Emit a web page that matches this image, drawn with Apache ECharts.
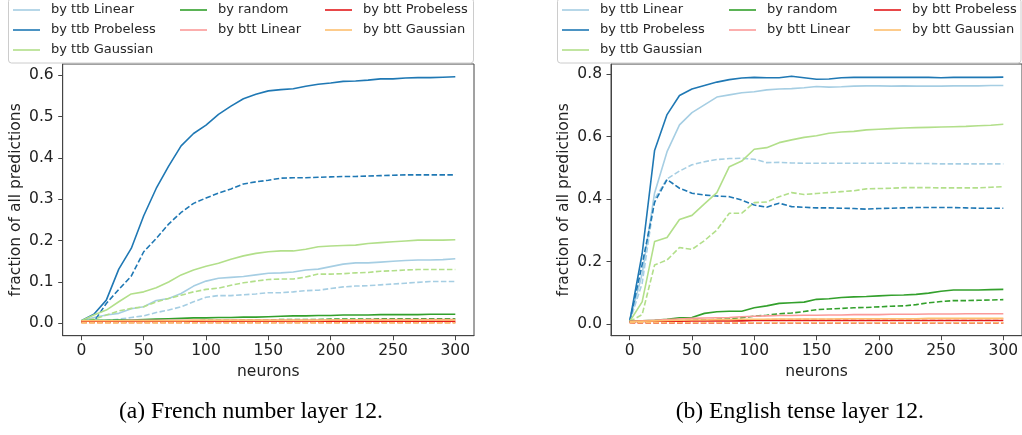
<!DOCTYPE html>
<html><head><meta charset="utf-8">
<script src="https://cdn.jsdelivr.net/npm/echarts@6/dist/echarts.min.js"></script>
<style>html,body{margin:0;padding:0;background:#fff}#c{width:1022px;height:435px}</style>
</head><body><div id="c"></div><script>
// ---------- data ----------
const NEURONS = [0,10,20,30,40,50,60,70,80,90,100,110,120,130,140,150,160,170,180,190,200,210,220,230,240,250,260,270,280,290,300];
const X_TICKS = [0,50,100,150,200,250,300];
const Y_TICKS_FR = [0,0.1,0.2,0.3,0.4,0.5,0.6];
const Y_TICKS_EN = [0,0.2,0.4,0.6,0.8];
const SERIES_NAMES = ['by ttb Linear','by ttb Probeless','by ttb Gaussian','by random','by btt Linear','by btt Probeless','by btt Gaussian'];
const CAPTION_FR = '(a) French number layer 12.';
const CAPTION_EN = '(b) English tense layer 12.';

// (a) French number layer 12 — solid and dashed variants
const FR_ttbLinear      = [0.006,0.014,0.020,0.024,0.035,0.040,0.055,0.060,0.072,0.090,0.102,0.109,0.111,0.113,0.117,0.121,0.122,0.124,0.129,0.131,0.137,0.143,0.146,0.146,0.148,0.150,0.152,0.153,0.153,0.154,0.156];
const FR_ttbLinear_d    = [0.003,0.005,0.007,0.010,0.014,0.018,0.026,0.032,0.040,0.052,0.063,0.067,0.067,0.069,0.071,0.074,0.074,0.076,0.079,0.080,0.084,0.088,0.090,0.091,0.093,0.095,0.097,0.099,0.101,0.101,0.101];
const FR_ttbProbeless   = [0.006,0.022,0.056,0.131,0.181,0.260,0.326,0.380,0.429,0.459,0.479,0.505,0.525,0.543,0.554,0.562,0.565,0.567,0.573,0.578,0.581,0.585,0.586,0.588,0.591,0.591,0.593,0.594,0.594,0.595,0.596];
const FR_ttbProbeless_d = [0.004,0.004,0.048,0.082,0.114,0.173,0.205,0.240,0.268,0.290,0.303,0.315,0.325,0.337,0.342,0.346,0.351,0.352,0.352,0.353,0.354,0.355,0.355,0.356,0.357,0.358,0.359,0.359,0.359,0.359,0.359];
const FR_ttbGaussian    = [0.006,0.020,0.032,0.052,0.071,0.076,0.086,0.100,0.117,0.129,0.138,0.145,0.155,0.163,0.169,0.173,0.175,0.175,0.179,0.185,0.187,0.188,0.189,0.193,0.195,0.197,0.199,0.201,0.201,0.201,0.202];
const FR_ttbGaussian_d  = [0.006,0.010,0.020,0.030,0.036,0.040,0.052,0.060,0.068,0.076,0.082,0.085,0.092,0.098,0.102,0.106,0.107,0.107,0.112,0.119,0.119,0.120,0.122,0.123,0.126,0.127,0.129,0.130,0.130,0.130,0.130];
const FR_random         = [0.006,0.007,0.007,0.008,0.008,0.009,0.010,0.011,0.012,0.013,0.013,0.014,0.014,0.015,0.015,0.016,0.017,0.018,0.018,0.019,0.019,0.020,0.020,0.020,0.021,0.021,0.021,0.021,0.022,0.022,0.022];
const FR_random_d       = [0.003,0.003,0.004,0.004,0.005,0.005,0.005,0.006,0.006,0.006,0.007,0.007,0.007,0.008,0.008,0.008,0.009,0.009,0.009,0.009,0.010,0.010,0.010,0.010,0.011,0.011,0.011,0.011,0.011,0.011,0.011];
const FR_bttLinear      = [0.006,0.006,0.006,0.006,0.007,0.007,0.007,0.007,0.007,0.007,0.007,0.007,0.008,0.008,0.008,0.008,0.008,0.008,0.008,0.008,0.008,0.008,0.008,0.009,0.009,0.009,0.009,0.009,0.009,0.009,0.009];
const FR_bttLinear_d    = [0.003,0.003,0.003,0.003,0.003,0.003,0.003,0.003,0.004,0.004,0.004,0.004,0.004,0.004,0.004,0.004,0.004,0.004,0.004,0.004,0.004,0.004,0.004,0.004,0.004,0.004,0.004,0.004,0.004,0.004,0.004];
const FR_bttProbeless   = [0.005,0.005,0.005,0.005,0.005,0.005,0.005,0.005,0.005,0.005,0.005,0.005,0.005,0.005,0.005,0.005,0.005,0.005,0.005,0.005,0.005,0.005,0.005,0.005,0.005,0.005,0.005,0.005,0.005,0.005,0.005];
const FR_bttProbeless_d = [0.002,0.002,0.002,0.002,0.002,0.002,0.002,0.002,0.002,0.002,0.002,0.002,0.002,0.002,0.002,0.002,0.002,0.002,0.002,0.002,0.002,0.002,0.002,0.002,0.002,0.002,0.002,0.002,0.002,0.002,0.002];
const FR_bttGaussian    = [0.006,0.006,0.006,0.006,0.006,0.006,0.006,0.006,0.006,0.007,0.007,0.007,0.007,0.007,0.007,0.007,0.007,0.007,0.007,0.007,0.008,0.008,0.008,0.008,0.008,0.008,0.008,0.008,0.008,0.008,0.008];
const FR_bttGaussian_d  = [0.001,0.001,0.001,0.001,0.001,0.001,0.001,0.001,0.001,0.001,0.001,0.001,0.001,0.001,0.001,0.001,0.001,0.001,0.001,0.001,0.001,0.001,0.001,0.001,0.001,0.001,0.001,0.001,0.001,0.001,0.001];

// (b) English tense layer 12
const EN_ttbLinear      = [0.008,0.160,0.420,0.552,0.638,0.677,0.702,0.727,0.734,0.741,0.744,0.750,0.753,0.754,0.757,0.761,0.759,0.760,0.762,0.763,0.763,0.762,0.763,0.762,0.762,0.762,0.763,0.763,0.763,0.764,0.764];
const EN_ttbLinear_d    = [0.008,0.130,0.400,0.465,0.490,0.510,0.520,0.527,0.530,0.531,0.528,0.517,0.518,0.516,0.515,0.515,0.515,0.515,0.515,0.515,0.515,0.515,0.515,0.514,0.514,0.513,0.513,0.513,0.513,0.513,0.513];
const EN_ttbProbeless   = [0.008,0.225,0.556,0.671,0.732,0.753,0.764,0.775,0.783,0.788,0.790,0.789,0.789,0.794,0.789,0.784,0.785,0.789,0.790,0.790,0.790,0.790,0.790,0.790,0.790,0.789,0.790,0.790,0.790,0.790,0.791];
const EN_ttbProbeless_d = [0.008,0.190,0.390,0.463,0.435,0.419,0.413,0.410,0.408,0.397,0.381,0.374,0.387,0.376,0.374,0.372,0.372,0.371,0.370,0.368,0.370,0.371,0.372,0.373,0.373,0.373,0.373,0.372,0.371,0.371,0.371];
const EN_ttbGaussian    = [0.008,0.071,0.264,0.277,0.335,0.348,0.385,0.421,0.504,0.522,0.560,0.565,0.581,0.590,0.598,0.603,0.611,0.615,0.617,0.622,0.624,0.626,0.628,0.629,0.630,0.631,0.632,0.633,0.635,0.637,0.640];
const EN_ttbGaussian_d  = [0.008,0.030,0.189,0.205,0.245,0.239,0.267,0.301,0.355,0.355,0.389,0.391,0.408,0.421,0.415,0.418,0.421,0.424,0.427,0.433,0.434,0.435,0.437,0.437,0.437,0.436,0.436,0.436,0.436,0.438,0.440];
const EN_random         = [0.008,0.010,0.012,0.015,0.020,0.021,0.034,0.039,0.041,0.041,0.052,0.058,0.066,0.068,0.070,0.079,0.081,0.085,0.087,0.088,0.090,0.092,0.093,0.095,0.099,0.105,0.109,0.109,0.109,0.110,0.111];
const EN_random_d       = [0.006,0.007,0.008,0.009,0.010,0.012,0.013,0.015,0.017,0.020,0.025,0.028,0.033,0.035,0.040,0.046,0.048,0.050,0.052,0.053,0.055,0.057,0.058,0.062,0.068,0.072,0.075,0.075,0.076,0.077,0.078];
const EN_bttLinear      = [0.008,0.010,0.012,0.014,0.016,0.018,0.019,0.020,0.021,0.023,0.025,0.026,0.027,0.027,0.028,0.028,0.029,0.029,0.030,0.030,0.030,0.031,0.031,0.031,0.032,0.032,0.032,0.033,0.033,0.033,0.033];
const EN_bttLinear_d    = [0.006,0.007,0.008,0.009,0.010,0.011,0.011,0.012,0.012,0.013,0.013,0.014,0.014,0.014,0.015,0.015,0.015,0.015,0.016,0.016,0.016,0.016,0.016,0.016,0.017,0.017,0.017,0.017,0.017,0.017,0.017];
const EN_bttProbeless   = [0.008,0.008,0.009,0.009,0.009,0.010,0.010,0.010,0.010,0.010,0.011,0.011,0.011,0.011,0.011,0.011,0.011,0.011,0.011,0.011,0.011,0.011,0.011,0.011,0.011,0.011,0.011,0.011,0.011,0.011,0.011];
const EN_bttProbeless_d = [0.004,0.003,0.003,0.003,0.003,0.003,0.003,0.003,0.003,0.003,0.003,0.003,0.003,0.003,0.003,0.003,0.003,0.003,0.003,0.003,0.003,0.003,0.003,0.003,0.003,0.003,0.003,0.003,0.003,0.003,0.003];
const EN_bttGaussian    = [0.008,0.009,0.010,0.011,0.012,0.013,0.013,0.014,0.014,0.015,0.015,0.015,0.016,0.016,0.016,0.016,0.016,0.017,0.017,0.017,0.017,0.017,0.017,0.017,0.018,0.018,0.018,0.018,0.018,0.018,0.018];
const EN_bttGaussian_d  = [0.004,0.004,0.004,0.004,0.004,0.004,0.004,0.004,0.004,0.004,0.004,0.004,0.004,0.004,0.004,0.004,0.004,0.004,0.004,0.004,0.004,0.004,0.004,0.004,0.004,0.004,0.004,0.004,0.004,0.004,0.004];

// ---------- styling ----------
const COLORS = ['#a6cee3','#1f78b4','#b2df8a','#33a02c','#fb9a99','#e31a1c','#fdbf6f'];
const FONT = 'DejaVu Sans';
const AX = '#444';

const FR_SETS = [[FR_ttbLinear,FR_ttbLinear_d],[FR_ttbProbeless,FR_ttbProbeless_d],[FR_ttbGaussian,FR_ttbGaussian_d],[FR_random,FR_random_d],[FR_bttLinear,FR_bttLinear_d],[FR_bttProbeless,FR_bttProbeless_d],[FR_bttGaussian,FR_bttGaussian_d]];
const EN_SETS = [[EN_ttbLinear,EN_ttbLinear_d],[EN_ttbProbeless,EN_ttbProbeless_d],[EN_ttbGaussian,EN_ttbGaussian_d],[EN_random,EN_random_d],[EN_bttLinear,EN_bttLinear_d],[EN_bttProbeless,EN_bttProbeless_d],[EN_bttGaussian,EN_bttGaussian_d]];

function pairs(vals){ return NEURONS.map((n,i)=>[n, vals[i]]); }
const series = [];
[FR_SETS, EN_SETS].forEach((sets, g) => {
  sets.forEach((pair, k) => {
    [0,1].forEach(d => {
      series.push({
        type:'line', name: d ? SERIES_NAMES[k] + ' (dashed)' : SERIES_NAMES[k],
        xAxisIndex:g, yAxisIndex:g, data: pairs(pair[d]),
        showSymbol:false, symbol:'none', animation:false, silent:true,
        color: COLORS[k], itemStyle:{color:COLORS[k]},
        lineStyle:{color:COLORS[k], width:1.6, type: d ? [5.5,2.4] : 'solid', cap:'butt', join:'round'},
        z: 2 + k
      });
    });
  });
});

function xAxis(g){
  return {type:'value', gridIndex:g, min:-15, max:315,
    name:'neurons', nameLocation:'middle', nameGap:24,
    nameTextStyle:{fontFamily:FONT, fontSize:15.5, color:'#222'},
    axisLine:{show:true, onZero:false, lineStyle:{color:AX, width:1}},
    axisTick:{show:true, customValues:X_TICKS, length:4.5, lineStyle:{color:AX}},
    axisLabel:{customValues:X_TICKS, fontFamily:FONT, fontSize:15.5, color:'#222', margin:7, formatter:v=>String(v)},
    splitLine:{show:false}};
}
function yAxis(g, ticks, min, max){
  return {type:'value', gridIndex:g, min:min, max:max,
    name:'fraction of all predictions', nameLocation:'middle', nameGap:39, nameRotate:90,
    nameTextStyle:{fontFamily:FONT, fontSize:15.5, color:'#222'},
    axisLine:{show:true, onZero:false, lineStyle:{color:AX, width:1}},
    axisTick:{show:true, customValues:ticks, length:4.5, lineStyle:{color:AX}},
    axisLabel:{customValues:ticks, fontFamily:FONT, fontSize:15.5, color:'#222', margin:9, formatter:v=>v.toFixed(1)},
    splitLine:{show:false}};
}

// legend layout: column x positions per panel, row centres, column-major placement
const LEG_FR = {cols:[13,180,325]};
const LEG_EN = {cols:[562,729,874]};
const ROWS = [11, 31, 51];
const COLPOS = [[0,0],[0,1],[0,2],[1,0],[1,1],[2,0],[2,1]];
const legends = [];
[LEG_FR, LEG_EN].forEach(L => {
  SERIES_NAMES.forEach((nm, k) => {
    const [c, r] = COLPOS[k];
    legends.push({show:true, data:[nm], left:L.cols[c], top:ROWS[r]-7.5, padding:0,
      orient:'horizontal', icon:'rect', itemWidth:27, itemHeight:1.6, selectedMode:false, z:10,
      textStyle:{fontFamily:FONT, fontSize:13, color:'#262626', padding:[0,0,0,6]}});
  });
});

const chart = echarts.init(document.getElementById('c'), null, {renderer:'canvas'});
chart.setOption({
  animation:false,
  backgroundColor:'#fff',
  grid:[
    {left:62.7, top:64, width:411.3, height:271.7, show:true, borderColor:AX, borderWidth:1, backgroundColor:'transparent'},
    {left:611, top:64, width:411.3, height:271.7, show:true, borderColor:AX, borderWidth:1, backgroundColor:'transparent'}
  ],
  xAxis:[xAxis(0), xAxis(1)],
  yAxis:[yAxis(0, Y_TICKS_FR, -0.03, 0.627), yAxis(1, Y_TICKS_EN, -0.0375, 0.833)],
  legend: legends,
  series: series,
  graphic:[
    {type:'rect', z:1, shape:{x:8.5, y:-1.5, width:465, height:64.5, r:3}, style:{fill:'rgba(255,255,255,0.85)', stroke:'#cccccc', lineWidth:1}},
    {type:'rect', z:1, shape:{x:557.5, y:-1.5, width:463.5, height:64.5, r:3}, style:{fill:'rgba(255,255,255,0.85)', stroke:'#cccccc', lineWidth:1}},
    {type:'text', z:5, style:{x:251, y:411.5, text:CAPTION_FR, fontFamily:'Liberation Serif', fontSize:23.6, fill:'#000', textAlign:'center', textVerticalAlign:'middle'}},
    {type:'text', z:5, style:{x:799.8, y:411.5, text:CAPTION_EN, fontFamily:'Liberation Serif', fontSize:23.6, fill:'#000', textAlign:'center', textVerticalAlign:'middle'}}
  ]
});
</script></body></html>
